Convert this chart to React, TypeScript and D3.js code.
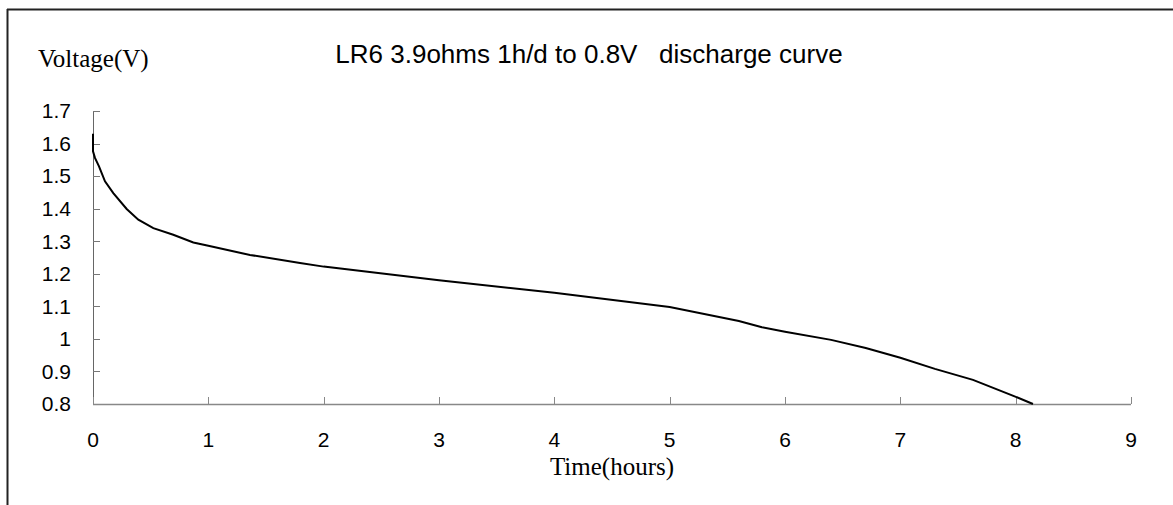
import * as React from 'react'
import * as d3 from 'd3'

// discharge curve
const hours = [0, 0, 0.017, 0.052, 0.104, 0.176, 0.292, 0.393, 0.523, 0.696, 0.87, 1.0, 1.361, 1.795, 2, 3, 4, 5, 5.6, 5.8, 6, 6.4, 6.7, 7, 7.3, 7.63, 7.98, 8.15]
const volts = [1.63, 1.576, 1.556, 1.53, 1.484, 1.448, 1.399, 1.366, 1.34, 1.32, 1.296, 1.286, 1.258, 1.233, 1.222, 1.18, 1.142, 1.098, 1.055, 1.036, 1.022, 0.997, 0.972, 0.942, 0.908, 0.874, 0.825, 0.8]
const xTicks = [0, 1, 2, 3, 4, 5, 6, 7, 8, 9]
const yTicks = [0.8, 0.9, 1, 1.1, 1.2, 1.3, 1.4, 1.5, 1.6, 1.7]

const title = 'LR6 3.9ohms 1h/d to 0.8V   discharge curve'
const yTitle = 'Voltage(V)'
const xTitle = 'Time(hours)'

const W = 1173
const H = 505
const left = 93
const right = 1131
const top = 111
const bottom = 404

const App = () => {
  const x = d3.scaleLinear().domain([0, 9]).range([left, right])
  const y = d3.scaleLinear().domain([0.8, 1.7]).range([bottom, top])

  const line = d3.line<number>()
    .x((d, i) => x(hours[i]))
    .y(d => y(d))

  const sans = '"Liberation Sans", Arial, sans-serif'
  const serif = '"Liberation Serif", "Times New Roman", serif'

  return (
    <svg width={W} height={H} style={{ position: 'absolute', left: 0, top: 0, background: '#fff' }}>
      <rect x={0} y={0} width={W} height={H} fill="#fff" />
      {/* outer frame, only top and left visible */}
      <line x1={7} y1={9.5} x2={W} y2={9.5} stroke="#222" strokeWidth={2} />
      <line x1={7.5} y1={9} x2={7.5} y2={H} stroke="#222" strokeWidth={2} />

      <text x={589} y={63} fontFamily={sans} fontSize={26} textAnchor="middle" style={{ whiteSpace: 'pre' }}>{title}</text>
      <text x={38} y={67} fontFamily={serif} fontSize={25}>{yTitle}</text>
      <text x={(left + right) / 2} y={475} fontFamily={serif} fontSize={25} textAnchor="middle">{xTitle}</text>

      {/* y axis */}
      <line x1={left + 0.5} y1={top} x2={left + 0.5} y2={bottom} stroke="#666" strokeWidth={1} />
      {yTicks.map(t => (
        <g key={'y' + t}>
          <line x1={left} x2={left + 7} y1={Math.round(y(t)) + 0.5} y2={Math.round(y(t)) + 0.5} stroke="#777" />
          <text x={71} y={y(t)} dy="0.35em" textAnchor="end" fontFamily={sans} fontSize={21}>{String(t)}</text>
        </g>
      ))}

      {/* x axis */}
      <line x1={left} y1={bottom + 0.5} x2={right} y2={bottom + 0.5} stroke="#888" strokeWidth={1.5} />
      {xTicks.map(t => (
        <g key={'x' + t}>
          <line x1={Math.round(x(t)) + 0.5} x2={Math.round(x(t)) + 0.5} y1={bottom - 7} y2={bottom} stroke="#888" />
          <text x={x(t)} y={440} dy="0.35em" textAnchor="middle" fontFamily={sans} fontSize={21}>{String(t)}</text>
        </g>
      ))}

      <path d={line(volts) || ''} fill="none" stroke="#000" strokeWidth={2} />
    </svg>
  )
}

export default App
